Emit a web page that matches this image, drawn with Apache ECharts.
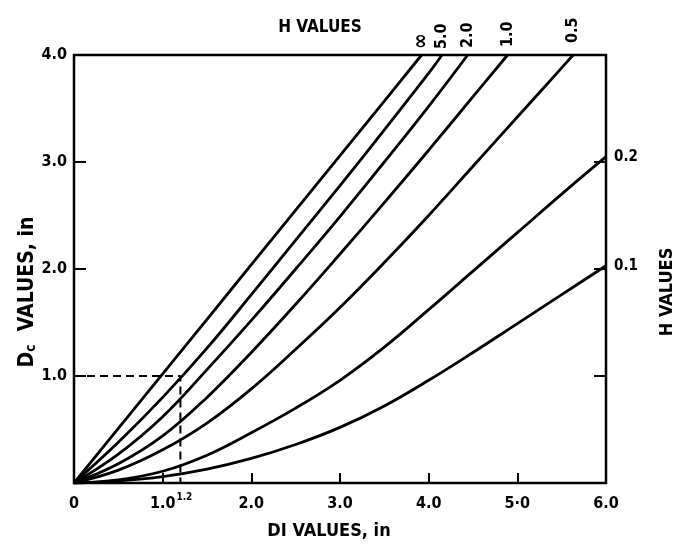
<!DOCTYPE html>
<html>
<head>
<meta charset="utf-8">
<script src="https://cdn.jsdelivr.net/npm/echarts@6/dist/echarts.min.js"></script>
<style>
html,body{margin:0;padding:0;background:#fff;}
#c{width:681px;height:546px;}
</style>
</head>
<body>
<div id="c"></div>
<script>
// ---- data ----
const hNames = ['∞', '5.0', '2.0', '1.0', '0.5', '0.2', '0.1'];

const diInf = [0, 0.5, 1.0, 1.5, 2.0, 2.5, 3.0, 3.5, 3.92];
const dcInf = [0, 0.51, 1.02, 1.53, 2.04, 2.55, 3.06, 3.57, 4.0];

const di50 = [0, 0.5, 1.0, 1.5, 2.0, 2.5, 3.0, 3.5, 4.0, 4.15];
const dc50 = [0, 0.38, 0.80, 1.26, 1.76, 2.27, 2.78, 3.30, 3.83, 4.0];

const di20 = [0, 0.5, 1.0, 1.5, 2.0, 2.5, 3.0, 3.5, 4.0, 4.44];
const dc20 = [0, 0.27, 0.62, 1.06, 1.52, 2.00, 2.49, 3.00, 3.52, 4.0];

const di10 = [0, 0.5, 1.0, 1.5, 2.0, 2.5, 3.0, 3.5, 4.0, 4.5, 4.89];
const dc10 = [0, 0.18, 0.44, 0.80, 1.22, 1.67, 2.14, 2.62, 3.11, 3.61, 4.0];

const di05 = [0, 0.5, 1.0, 1.5, 2.0, 2.5, 3.0, 3.5, 4.0, 4.5, 5.0, 5.5, 5.63];
const dc05 = [0, 0.12, 0.31, 0.56, 0.88, 1.25, 1.64, 2.06, 2.50, 2.96, 3.42, 3.88, 4.0];

const di02 = [0, 0.5, 1.0, 1.5, 2.0, 2.5, 3.0, 3.5, 4.0, 4.5, 5.0, 5.5, 6.0];
const dc02 = [0, 0.03, 0.11, 0.26, 0.47, 0.70, 0.96, 1.27, 1.62, 1.98, 2.34, 2.70, 3.05];

const di01 = [0, 0.5, 1.0, 1.5, 2.0, 2.5, 3.0, 3.5, 4.0, 4.5, 5.0, 5.5, 6.0];
const dc01 = [0, 0.02, 0.06, 0.13, 0.23, 0.36, 0.52, 0.72, 0.96, 1.22, 1.49, 1.76, 2.03];

const dashDi = [0, 1.2, 1.2];
const dashDc = [1.0, 1.0, 0];

const xTickLabels = ['0', '1.0', '2.0', '3.0', '4.0', '5·0', '6.0'];
const yTickLabels = ['', '1.0', '2.0', '3.0', '4.0'];
const extraXMark = [1.2];
const extraXMarkLabel = ['1.2'];

// ---- chart ----
const FF = "'DejaVu Sans Condensed','DejaVu Sans',sans-serif";
const curveDi = [diInf, di50, di20, di10, di05, di02, di01];
const curveDc = [dcInf, dc50, dc20, dc10, dc05, dc02, dc01];
const endSide = ['top', 'top', 'top', 'top', 'top', 'right', 'right'];
const endOffset = [[0,0],[0,0],[1,0],[2,0],[6,0],[0,0],[0,0]];
const endFontSize = [21, 16, 16, 16, 16, 15, 15];

const series = [];
curveDi.forEach((dis, k) => {
  series.push({
    type: 'line', name: hNames[k], smooth: 0.4, symbol: 'none',
    clip: true, silent: true, z: 3,
    lineStyle: {color: '#000', width: 2.8},
    data: dis.map((d, i) => [d, curveDc[k][i]])
  });
});
series.push({
  type: 'line', symbol: 'none', silent: true, z: 2,
  lineStyle: {color: '#000', width: 2, type: [8, 5]},
  data: dashDi.map((d, i) => [d, dashDc[i]])
});
const lbl = {color: '#000', opacity: 1, textBorderWidth: 0, fontFamily: FF, fontWeight: 'bold'};
// end labels of the H curves
series.push({
  type: 'scatter', symbolSize: 0, silent: true, z: 5,
  itemStyle: {color: '#000', opacity: 1},
  data: curveDi.map((dis, k) => {
    const n = dis.length - 1;
    const top = endSide[k] === 'top';
    return {
      value: [dis[n], curveDc[k][n]],
      label: Object.assign({}, lbl, top ? {
        show: true, formatter: hNames[k], position: 'top', distance: 6,
        rotate: 90, align: 'left', verticalAlign: 'middle', offset: endOffset[k],
        fontSize: endFontSize[k]
      } : {
        show: true, formatter: hNames[k], position: 'right', distance: 8,
        fontSize: endFontSize[k]
      })
    };
  })
});
// extra 1.2 mark on the x axis
series.push({
  type: 'scatter', symbolSize: 0, silent: true, z: 5,
  itemStyle: {color: '#000', opacity: 1},
  data: extraXMark.map((d, i) => ({
    value: [d, 0],
    label: Object.assign({}, lbl, {show: true, formatter: extraXMarkLabel[i], position: 'bottom',
      distance: 9, offset: [4, 0], fontSize: 10})
  }))
});

const tickStyle = {color: '#000', width: 2};
const option = {
  animation: false,
  backgroundColor: '#fff',
  grid: {left: 74, right: 75, top: 55, bottom: 63, show: true,
    borderColor: '#000', borderWidth: 2.5, outerBoundsMode: 'none'},
  xAxis: [{
    type: 'value', min: 0, max: 6, interval: 1, position: 'bottom',
    axisLine: {show: false}, splitLine: {show: false},
    axisTick: {show: true, inside: true, length: 10, lineStyle: tickStyle},
    axisLabel: {margin: 13, color: '#000', fontFamily: FF, fontWeight: 'bold', fontSize: 16,
      formatter: v => xTickLabels[Math.round(v)] || ''}
  }],
  yAxis: [{
    type: 'value', min: 0, max: 4, interval: 1, position: 'left',
    axisLine: {show: false}, splitLine: {show: false},
    axisTick: {show: true, inside: true, length: 12, lineStyle: tickStyle},
    axisLabel: {margin: 7, color: '#000', fontFamily: FF, fontWeight: 'bold', fontSize: 16,
      formatter: v => yTickLabels[Math.round(v)] || ''}
  }, {
    type: 'value', min: 0, max: 4, interval: 1, position: 'right',
    axisLine: {show: false}, splitLine: {show: false},
    axisTick: {show: true, inside: true, length: 12, lineStyle: tickStyle},
    axisLabel: {show: false}
  }],
  graphic: [
    {type: 'text', x: 320, y: 28, silent: true,
      style: {text: 'H VALUES', align: 'center', verticalAlign: 'middle',
        font: 'bold 17px ' + FF, fill: '#000'}},
    {type: 'text', x: 329, y: 531, silent: true,
      style: {text: 'DI VALUES, in', align: 'center', verticalAlign: 'middle',
        font: 'bold 18px ' + FF, fill: '#000'}},
    {type: 'text', x: 26, y: 292, rotation: Math.PI / 2, silent: true,
      style: {text: '{d|D}{s|c}{t|  VALUES, in}', align: 'center', verticalAlign: 'middle',
        rich: {
          d: {font: 'bold 21px ' + FF, fill: '#000', verticalAlign: 'bottom', lineHeight: 24},
          s: {font: 'bold 14px ' + FF, fill: '#000', verticalAlign: 'bottom', lineHeight: 24},
          t: {font: 'bold 21px ' + FF, fill: '#000', verticalAlign: 'bottom', lineHeight: 24}
        }}},
    {type: 'text', x: 667, y: 292, rotation: Math.PI / 2, silent: true,
      style: {text: 'H VALUES', align: 'center', verticalAlign: 'middle',
        font: 'bold 18px ' + FF, fill: '#000'}}
  ],
  series: series
};
const chart = echarts.init(document.getElementById('c'), null, {renderer: 'canvas'});
chart.setOption(option);
</script>
</body>
</html>
